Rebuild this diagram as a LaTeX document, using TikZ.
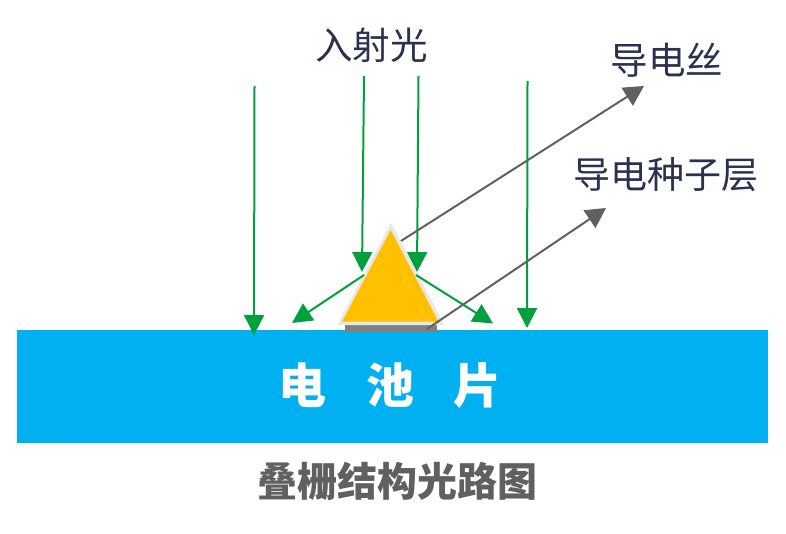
\documentclass[tikz,border=0pt]{standalone}
\usepackage{fontspec}
\setmainfont{Noto Sans CJK SC}
\usetikzlibrary{arrows.meta}
\definecolor{ink}{HTML}{2A3050}
\definecolor{ray}{HTML}{00A03E}
\definecolor{lead}{HTML}{606060}
\definecolor{cell}{HTML}{00B0F0}
\definecolor{gold}{HTML}{FFC000}
\tikzset{
  x=1pt,y=-1pt,
  raythin/.style={draw=ray,line width=2pt,-{Triangle[length=20pt,width=20pt,fill=ray]}},
  leadline/.style={draw=lead,line width=2pt,-{Triangle[length=20pt,width=21pt,fill=lead]}},
  lbl/.style={text=ink,font=\fontsize{37.5}{40}\selectfont,inner sep=0pt},
  celltext/.style={text=white,font=\fontsize{48}{50}\selectfont\bfseries,inner sep=0pt},
}
\begin{document}
\begin{tikzpicture}
\useasboundingbox (0,0) rectangle (786,534);
% cell
\node[fill=cell,minimum width=751pt,minimum height=113pt,inner sep=0pt,outer sep=0pt,anchor=north west] (cellbox) at (17,330) {};
\node[celltext] (c1) at (302,385) {电};
\node[celltext] (c2) at (390,385) {池};
\node[celltext] (c3) at (477,385) {片};
% seed layer and wire
\fill[gray] (345,324) rectangle (437,332);
\fill[black!9] (391,223) -- (444.5,325) -- (337,325) -- cycle;
\fill[gold] (390.7,230) -- (438.5,321.7) -- (342,321.7) -- cycle;
% coordinates
\coordinate (r1s) at (254.5,86); \coordinate (r1e) at (254,335);
\coordinate (r2s) at (364,76);   \coordinate (r2e) at (362,272);
\coordinate (r3s) at (418.5,76); \coordinate (r3e) at (417,272);
\coordinate (r4s) at (527.5,81); \coordinate (r4e) at (527,328);
\coordinate (r5s) at (364,275);  \coordinate (r5e) at (292,323);
\coordinate (r6s) at (416,275);  \coordinate (r6e) at (493,323.5);
\coordinate (g1s) at (401,241);  \coordinate (g1e) at (644,86);
\coordinate (g2s) at (427,329);  \coordinate (g2e) at (606,208);
\draw[raythin] (r1s) -- (r1e);
\draw[raythin] (r2s) -- (r2e);
\draw[raythin] (r3s) -- (r3e);
\draw[raythin] (r4s) -- (r4e);
\draw[raythin] (r5s) -- (r5e);
\draw[raythin] (r6s) -- (r6e);
\draw[leadline] (g1s) -- (g1e);
\draw[leadline] (g2s) -- (g2e);
% labels
\node[lbl] (t1) at (371.5,45) {入射光};
\node[lbl] (t2) at (667,60) {导电丝};
\node[lbl,font=\fontsize{37}{40}\selectfont] (t3) at (665.5,175) {导电种子层};
\node[text=lead,font=\fontsize{40}{44}\selectfont\bfseries,inner sep=0pt] (t4) at (397,481) {叠栅结构光路图};
\end{tikzpicture}
\end{document}
